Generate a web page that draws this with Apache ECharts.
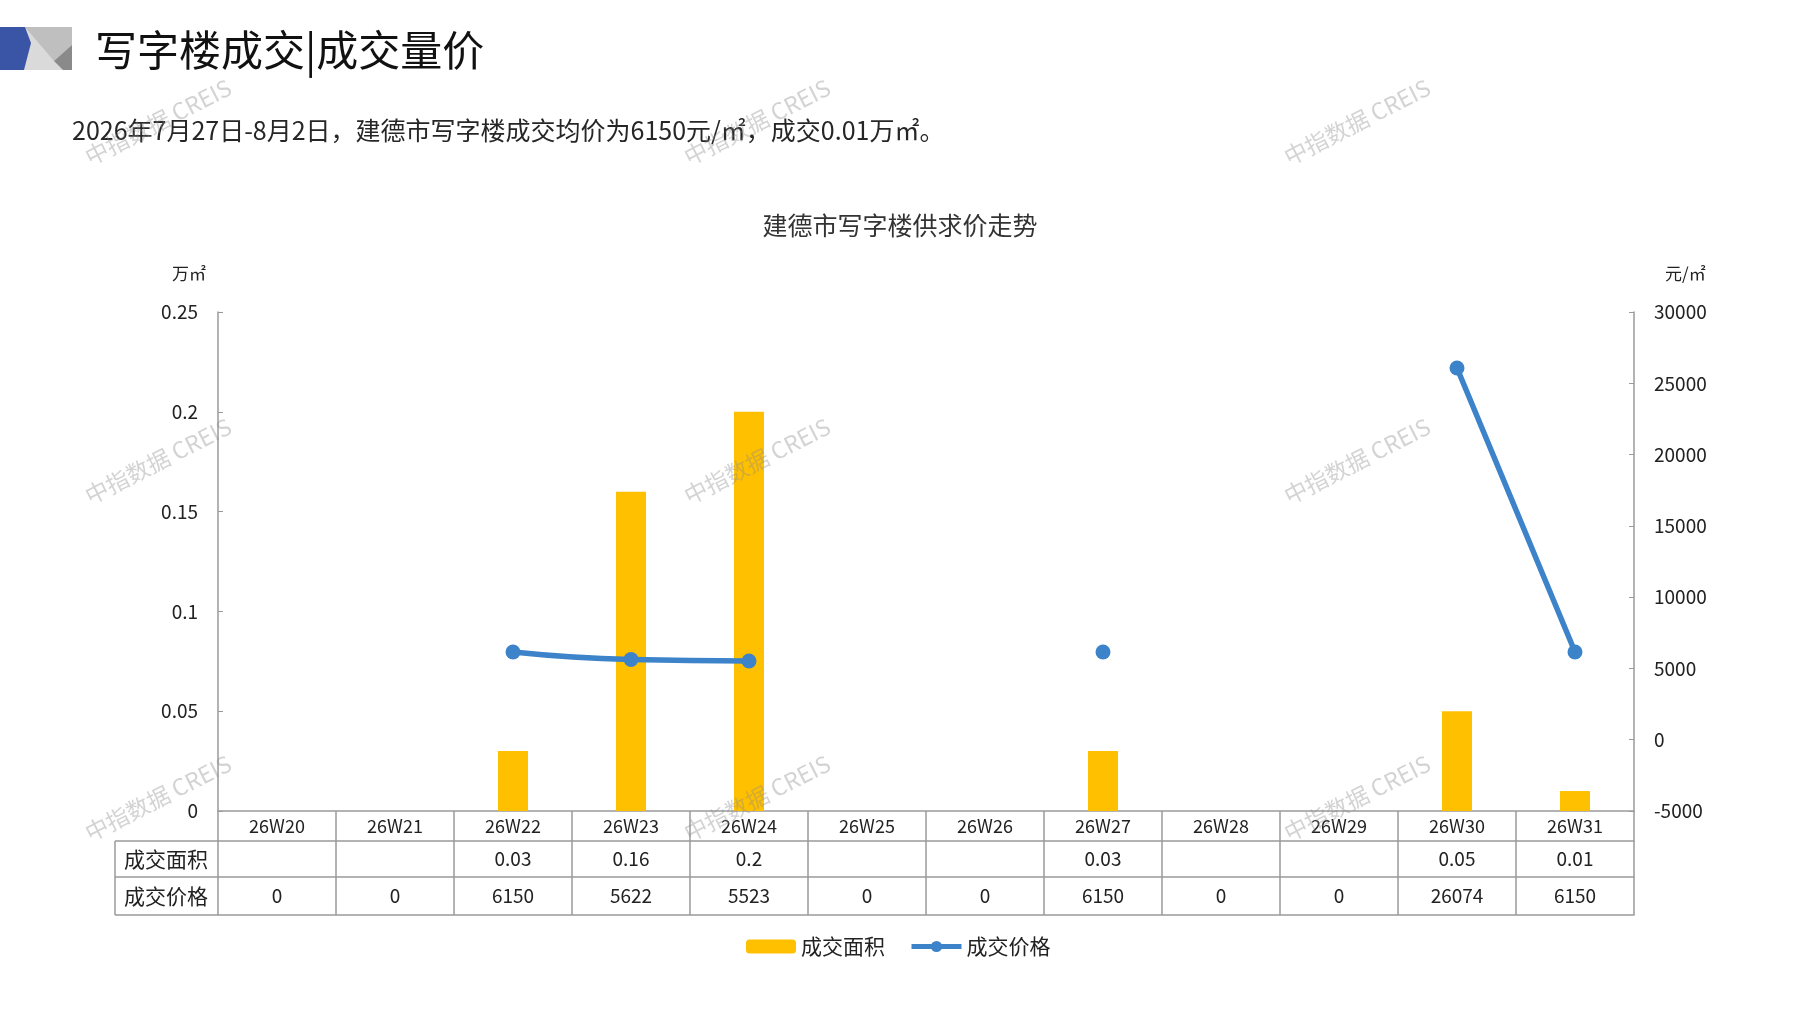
<!DOCTYPE html>
<html>
<head>
<meta charset="utf-8">
<title>建德市写字楼供求价走势</title>
<script src="https://cdn.jsdelivr.net/npm/echarts@6/dist/echarts.min.js"></script>
<style>
html,body{margin:0;padding:0;background:#fff;}
#main{width:1797px;height:1010px;}
</style>
</head>
<body>
<div id="main"></div>
<script>
var weeks = ['26W20','26W21','26W22','26W23','26W24','26W25','26W26','26W27','26W28','26W29','26W30','26W31'];
var areaData = [null,null,0.03,0.16,0.2,null,null,0.03,null,null,0.05,0.01];
var priceData = [0,0,6150,5622,5523,0,0,6150,0,0,26074,6150];
var seriesNames = ['成交面积','成交价格'];

var FONT = '"Noto Sans CJK SC", "Noto Sans", sans-serif';
var GRAY = '#9a9a9a';

// 0 price = no deal that week, the line skips it
var priceLine = priceData.map(function(v){ return v === 0 ? '-' : v; });
var areaRow = areaData.map(function(v){ return v == null ? '' : String(v); });
var priceRow = priceData.map(function(v){ return String(v); });

var myChart = echarts.init(document.getElementById('main'));

var marks = [];
[158, 757, 1357].forEach(function(x){
	[122, 461, 798].forEach(function(y){
		marks.push({
			type:'text', x:x, y:y, rotation:0.47, z:100, silent:true,
			style:{text:'中指数据 CREIS', fontSize:23, fontFamily:FONT, fill:'rgba(140,140,140,0.38)', align:'center', verticalAlign:'middle'}
		});
	});
});

var option = {
	animation:false,
	textStyle:{fontFamily:FONT},
	legend:{
		left:741, top:931,
		itemWidth:50, itemHeight:14, itemGap:24,
		lineStyle:{width:5},
		textStyle:{fontSize:21, color:'#222', fontFamily:FONT},
		data:seriesNames
	},
	grid:{left:218, right:163, top:312, bottom:199},
	xAxis:[
		{
			type:'category', data:weeks, position:'bottom',
			axisLine:{onZero:false, lineStyle:{color:GRAY, width:1.5}},
			axisTick:{show:true, inside:false, length:104, interval:0, lineStyle:{color:GRAY, width:1.5}},
			axisLabel:{interval:0, margin:6, fontSize:18, color:'#222', fontFamily:FONT}
		},
		{
			type:'category', data:areaRow, position:'bottom', offset:30,
			axisLine:{onZero:false, lineStyle:{color:GRAY, width:1.5}},
			axisTick:{show:false},
			axisLabel:{interval:0, margin:8, fontSize:19, color:'#222', fontFamily:FONT}
		},
		{
			type:'category', data:priceRow, position:'bottom', offset:66,
			axisLine:{onZero:false, lineStyle:{color:GRAY, width:1.5}},
			axisTick:{show:false},
			axisLabel:{interval:0, margin:9, fontSize:19, color:'#222', fontFamily:FONT}
		},
		{
			type:'category', data:weeks, position:'bottom', offset:104,
			axisLine:{onZero:false, lineStyle:{color:GRAY, width:1.5}},
			axisTick:{show:false},
			axisLabel:{show:false}
		}
	],
	yAxis:[
		{
			type:'value', min:0, max:0.25, interval:0.05,
			name:'万㎡', nameLocation:'end', nameGap:30,
			nameTextStyle:{fontSize:17, color:'#222', align:'right', padding:[0,12,0,0]},
			axisLine:{show:true, lineStyle:{color:GRAY, width:1.5}},
			axisTick:{show:true, inside:true, length:5, lineStyle:{color:GRAY}},
			splitLine:{show:false},
			axisLabel:{margin:20, fontSize:19, color:'#222'}
		},
		{
			type:'value', min:-5000, max:30000, interval:5000,
			name:'元/㎡', nameLocation:'end', nameGap:30,
			nameTextStyle:{fontSize:17, color:'#222', align:'left', padding:[0,0,0,31]},
			axisLine:{show:true, lineStyle:{color:GRAY, width:1.5}},
			axisTick:{show:true, inside:true, length:5, lineStyle:{color:GRAY}},
			splitLine:{show:false},
			axisLabel:{margin:20, fontSize:19, color:'#222', formatter:function(v){ return String(v); }}
		}
	],
	series:[
		{
			name:seriesNames[0], type:'bar', xAxisIndex:0, yAxisIndex:0,
			barWidth:30, itemStyle:{color:'#FFC000'},
			data:areaData
		},
		{
			name:seriesNames[1], type:'line', xAxisIndex:0, yAxisIndex:1,
			smooth:0.5, connectNulls:false,
			symbol:'circle', symbolSize:15,
			lineStyle:{color:'#3C83CA', width:5.5},
			itemStyle:{color:'#3C83CA'},
			data:priceLine
		}
	],
	graphic:[
		// header badge
		{type:'rect', shape:{x:0, y:27, width:72, height:43}, style:{fill:'#dadada'}},
		{type:'polygon', shape:{points:[[25,27],[72,27],[72,45],[54,61]]}, style:{fill:'#bfbfbf'}},
		{type:'polygon', shape:{points:[[72,45],[72,70],[63,70],[54,61]]}, style:{fill:'#8a8a8a'}},
		{type:'polygon', shape:{points:[[0,27],[25,27],[31,43],[24,70],[0,70]]}, style:{fill:'#3a55a6'}},
		{type:'text', x:95, y:50, style:{text:'写字楼成交|成交量价', fontSize:42, fontFamily:FONT, fill:'#111', align:'left', verticalAlign:'middle'}},
		{type:'text', x:72, y:130, style:{text:'2026年7月27日-8月2日，建德市写字楼成交均价为6150元/㎡，成交0.01万㎡。', fontSize:25, fontFamily:FONT, fill:'#262626', align:'left', verticalAlign:'middle'}},
		{type:'text', x:900, y:225, style:{text:'建德市写字楼供求价走势', fontSize:25, fontFamily:FONT, fill:'#333', align:'center', verticalAlign:'middle'}},
		// left header column of the data table
		{type:'line', shape:{x1:115, y1:841, x2:218, y2:841}, style:{stroke:GRAY, lineWidth:1.5}},
		{type:'line', shape:{x1:115, y1:877, x2:218, y2:877}, style:{stroke:GRAY, lineWidth:1.5}},
		{type:'line', shape:{x1:115, y1:915, x2:218, y2:915}, style:{stroke:GRAY, lineWidth:1.5}},
		{type:'line', shape:{x1:115, y1:841, x2:115, y2:915}, style:{stroke:GRAY, lineWidth:1.5}},
		{type:'text', x:166, y:859, style:{text:seriesNames[0], fontSize:21, fontFamily:FONT, fill:'#222', align:'center', verticalAlign:'middle'}},
		{type:'text', x:166, y:896, style:{text:seriesNames[1], fontSize:21, fontFamily:FONT, fill:'#222', align:'center', verticalAlign:'middle'}}
	].concat(marks)
};

myChart.setOption(option);
</script>
</body>
</html>
